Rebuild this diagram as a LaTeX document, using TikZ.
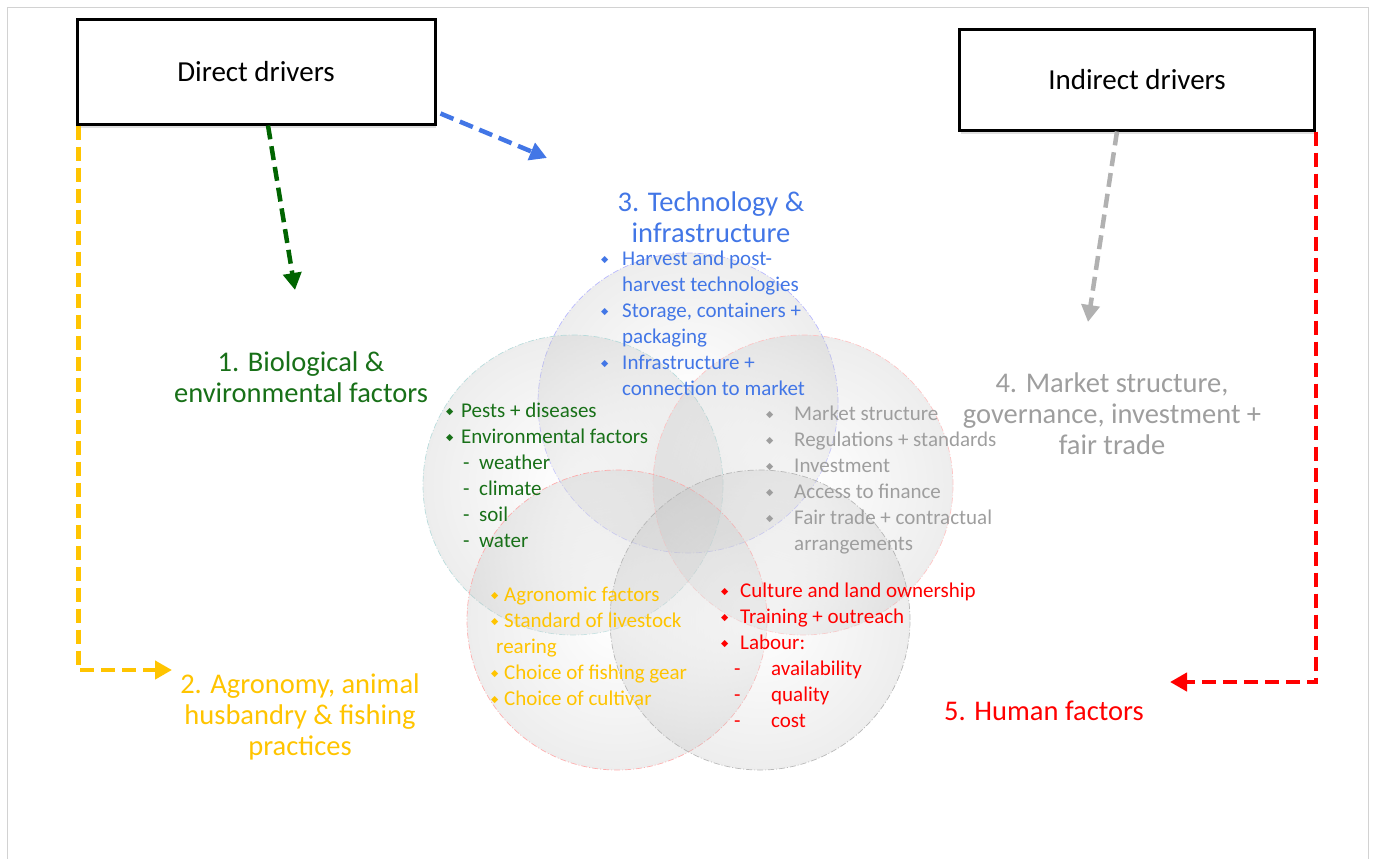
\documentclass[tikz,border=0pt]{standalone}
\usepackage{fontspec}
\setmainfont{Carlito}
\newfontfamily\symfont{DejaVu Sans}
\usepackage{graphicx}
\usepackage{xcolor}
\usepackage{tikz}
\usetikzlibrary{arrows.meta, shadows, positioning}

\definecolor{techblue}{RGB}{66,118,230}
\definecolor{biogreen}{RGB}{24,112,24}
\definecolor{arrowgreen}{RGB}{0,100,0}
\definecolor{agroyellow}{RGB}{255,196,0}
\definecolor{mktgray}{RGB}{158,158,158}
\definecolor{humred}{RGB}{255,0,0}

\newcommand{\dmd}{\raisebox{0.3ex}{\scalebox{0.45}{\symfont ◆}}}
\newcommand{\bitem}[2]{\makebox[#1][l]{\dmd}#2}
\newcommand{\ditem}[3]{\hspace*{#1}\makebox[#2][l]{-}#3}

\begin{document}
\begin{tikzpicture}[
    x=1pt, y=-1pt,
    driver/.style={draw, fill=white, line width=3pt, rectangle, minimum width=358pt, minimum height=104pt, font=\fontsize{29}{34}\selectfont, drop shadow={shadow xshift=1pt, shadow yshift=-4pt, opacity=0.25}},
    head/.style={align=center, font=\fontsize{28.5}{31}\selectfont},
    items/.style={align=left, anchor=north west, inner sep=0pt, font=\fontsize{21}{26}\selectfont},
    venn/.style={circle, minimum size=300pt, inner sep=0pt, draw=#1, line width=0.7pt, dash pattern=on 6pt off 2pt on 1pt off 2pt, inner color=white, outer color=gray!50, fill opacity=0.28, draw opacity=0.9},
    link/.style={line width=4.5pt, dash pattern=on 14pt off 7pt, -{Triangle[length=17pt, width=18pt]}}
]
\useasboundingbox (0,0) rectangle (1373,859);
% frame
\draw[gray!35, line width=1pt] (7,859) -- (7,8) -- (1368,8) -- (1368,859);

% Venn circles
\node[venn=blue!30] (ctech) at (688,403) {};
\node[venn=teal!30] (cbio) at (573,485) {};
\node[venn=red!25] (cmkt) at (803,485) {};
\node[venn=red!35] (cagro) at (617,620) {};
\node[venn=gray!60] (chum) at (760,620) {};

% Driver boxes
\node[driver] (direct) at (256,72) {Direct drivers};
\node[driver, minimum width=355pt, minimum height=100pt] (indirect) at (1137,80) {Indirect drivers};

% Factor headings
\node[head, text=techblue] (tech) at (711,217) {3. Technology \&\\infrastructure};
\node[head, text=biogreen] (bio) at (301,377) {1. Biological \&\\environmental factors};
\node[head, text=mktgray] (mkt) at (1112,414) {4. Market structure,\\governance, investment +\\fair trade};
\node[head, text=agroyellow] (agro) at (300,717) {2. Agronomy, animal\\husbandry \& fishing\\practices};
\node[head, text=humred] (human) at (1044,711) {5. Human factors};

% Factor lists
\node[items, text=techblue] (techlist) at (601,251) {%
  \bitem{21pt}{Harvest and post-}\\
  \hspace*{21pt}harvest technologies\\
  \bitem{21pt}{Storage, containers +}\\
  \hspace*{21pt}packaging\\
  \bitem{21pt}{Infrastructure +}\\
  \hspace*{21pt}connection to market};
\node[items, text=biogreen] (biolist) at (446,403) {%
  \bitem{15pt}{Pests + diseases}\\
  \bitem{15pt}{Environmental factors}\\
  \ditem{17pt}{16pt}{weather}\\
  \ditem{17pt}{16pt}{climate}\\
  \ditem{17pt}{16pt}{soil}\\
  \ditem{17pt}{16pt}{water}};
\node[items, text=mktgray] (mktlist) at (766,406) {%
  \bitem{28pt}{Market structure}\\
  \bitem{28pt}{Regulations + standards}\\
  \bitem{28pt}{Investment}\\
  \bitem{28pt}{Access to finance}\\
  \bitem{28pt}{Fair trade + contractual}\\
  \hspace*{28pt}arrangements};
\node[items, text=agroyellow] (agrolist) at (491,587) {%
  \bitem{13pt}{Agronomic factors}\\
  \bitem{13pt}{Standard of livestock}\\
  \hspace*{5pt}rearing\\
  \bitem{13pt}{Choice of fishing gear}\\
  \bitem{13pt}{Choice of cultivar}};
\node[items, text=humred] (humlist) at (721,583) {%
  \bitem{19pt}{Culture and land ownership}\\
  \bitem{19pt}{Training + outreach}\\
  \bitem{19pt}{Labour:}\\
  \ditem{13pt}{37pt}{availability}\\
  \ditem{13pt}{37pt}{quality}\\
  \ditem{13pt}{37pt}{cost}};

% Arrow targets
\coordinate (bio-in) at (295,290);
\coordinate (tech-in) at (547,158);
\coordinate (mkt-in) at (1088,322);
\coordinate (agro-in) at (172,670);
\coordinate (hum-in) at (1170,682);

\draw[link, arrowgreen] ([xshift=12pt]direct.south) -- (bio-in);
\draw[link, techblue] ([xshift=4pt, yshift=12pt]direct.south east) -- (tech-in);
\draw[link, agroyellow] ([xshift=3pt]direct.south west) |- (agro-in);
\draw[link, mktgray!80] ([xshift=-20pt]indirect.south) -- (mkt-in);
\draw[link, humred] (indirect.south east) |- (hum-in);
\end{tikzpicture}
\end{document}
